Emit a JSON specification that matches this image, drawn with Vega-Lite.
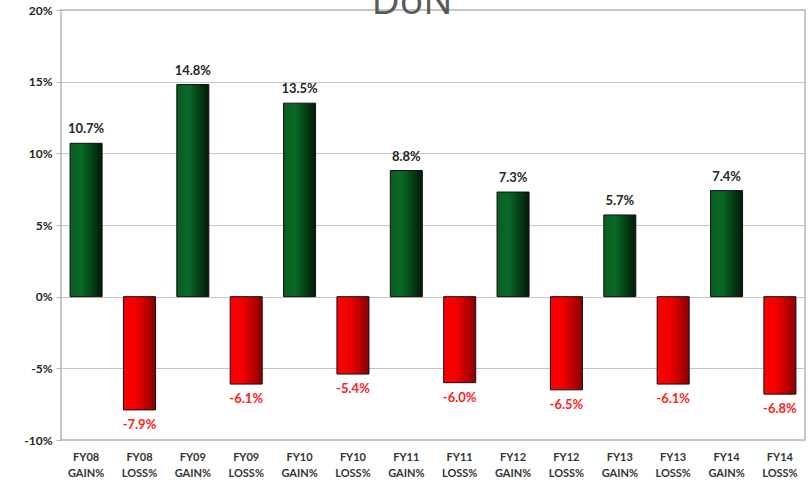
{
  "$schema": "https://vega.github.io/schema/vega-lite/v6.json",
  "autosize": {"type": "none"},
  "width": 744,
  "height": 430,
  "padding": {"left": 61, "top": 10, "right": 3, "bottom": 42},
  "background": "white",
  "title": {"text": "DoN", "font": "Open Sans", "fontSize": 39, "fontWeight": "normal", "color": "#595959", "baseline": "bottom", "offset": -57, "frame": "group", "dx": -21},
  "config": {
    "view": {"stroke": "#b5b5b5", "strokeWidth": 1.5},
    "font": "Lato"
  },
  "data": {"values": [
    {"cat": "FY08 GAIN%", "v": 0.107, "type": "gain"},
    {"cat": "FY08 LOSS%", "v": -0.079, "type": "loss"},
    {"cat": "FY09 GAIN%", "v": 0.148, "type": "gain"},
    {"cat": "FY09 LOSS%", "v": -0.061, "type": "loss"},
    {"cat": "FY10 GAIN%", "v": 0.135, "type": "gain"},
    {"cat": "FY10 LOSS%", "v": -0.054, "type": "loss"},
    {"cat": "FY11 GAIN%", "v": 0.088, "type": "gain"},
    {"cat": "FY11 LOSS%", "v": -0.060, "type": "loss"},
    {"cat": "FY12 GAIN%", "v": 0.073, "type": "gain"},
    {"cat": "FY12 LOSS%", "v": -0.065, "type": "loss"},
    {"cat": "FY13 GAIN%", "v": 0.057, "type": "gain"},
    {"cat": "FY13 LOSS%", "v": -0.061, "type": "loss"},
    {"cat": "FY14 GAIN%", "v": 0.074, "type": "gain"},
    {"cat": "FY14 LOSS%", "v": -0.068, "type": "loss"}
  ]},
  "transform": [
    {"calculate": "replace(format(datum.v, '.1%'), '\u2212', '-')", "as": "lbl"}
  ],
  "encoding": {
    "x": {"field": "cat", "type": "nominal",
      "sort": ["FY08 GAIN%", "FY08 LOSS%", "FY09 GAIN%", "FY09 LOSS%", "FY10 GAIN%", "FY10 LOSS%", "FY11 GAIN%", "FY11 LOSS%", "FY12 GAIN%", "FY12 LOSS%", "FY13 GAIN%", "FY13 LOSS%", "FY14 GAIN%", "FY14 LOSS%"],
      "scale": {"paddingInner": 0.4, "paddingOuter": 0.17},
      "axis": {"title": null, "labelAngle": 0, "ticks": false, "domain": false,
        "labelExpr": "split(datum.label, ' ')", "labelFont": "Lato", "labelFontWeight": "bold",
        "labelFontSize": 11, "labelColor": "#333333", "labelPadding": 11, "labelLineHeight": 16, "labelBaseline": "top"}},
    "y": {"field": "v", "type": "quantitative",
      "scale": {"domain": [-0.1, 0.2], "nice": false},
      "axis": {"title": null, "values": [-0.1, -0.05, 0, 0.05, 0.1, 0.15, 0.2],
        "labelExpr": "replace(format(datum.value, '.0%'), '\u2212', '-')",
        "grid": true, "gridColor": "#c4c4c4", "gridWidth": 1, "domain": false,
        "tickColor": "#b5b5b5", "tickSize": 5, "labelPadding": 4,
        "labelFont": "Lato", "labelFontWeight": "bold", "labelFontSize": 12, "labelColor": "#262626"}}
  },
  "layer": [
    {
      "transform": [{"filter": "datum.type === 'gain'"}],
      "mark": {"type": "bar", "stroke": "#111111", "strokeWidth": 1,
        "color": {"gradient": "linear", "x1": 0, "y1": 0, "x2": 1, "y2": 0,
          "stops": [{"offset": 0, "color": "#0b5c22"}, {"offset": 0.35, "color": "#0a6a27"}, {"offset": 1, "color": "#021a08"}]}}
    },
    {
      "transform": [{"filter": "datum.type === 'loss'"}],
      "mark": {"type": "bar", "stroke": "#111111", "strokeWidth": 1,
        "color": {"gradient": "linear", "x1": 0, "y1": 0, "x2": 1, "y2": 0,
          "stops": [{"offset": 0, "color": "#ff0000"}, {"offset": 0.4, "color": "#f20000"}, {"offset": 1, "color": "#8a0000"}]}}
    },
    {
      "transform": [{"filter": "datum.type === 'gain'"}],
      "mark": {"type": "text", "baseline": "bottom", "dy": -7, "font": "Lato", "fontWeight": "bold", "fontSize": 13, "color": "#262626"},
      "encoding": {"text": {"field": "lbl"}}
    },
    {
      "transform": [{"filter": "datum.type === 'loss'"}],
      "mark": {"type": "text", "baseline": "top", "dy": 9, "font": "Lato", "fontWeight": "bold", "fontSize": 13, "color": "#ff2020"},
      "encoding": {"text": {"field": "lbl"}}
    }
  ]
}
